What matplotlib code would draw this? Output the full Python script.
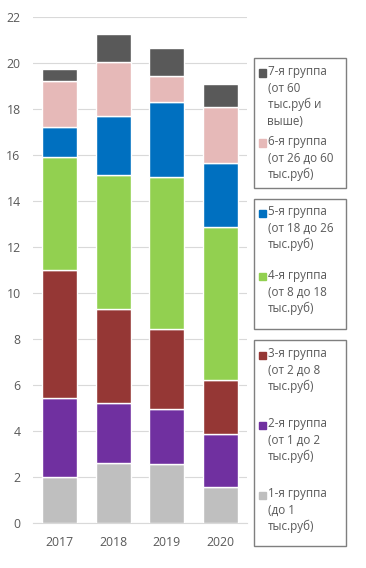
import matplotlib.pyplot as plt
from matplotlib.patches import Rectangle

plt.rcParams['font.family'] = ['Open Sans', 'DejaVu Sans']

years = ['2017', '2018', '2019', '2020']
g1 = [2.0, 2.6, 2.57, 1.58]
g2 = [3.42, 2.6, 2.37, 2.3]
g3 = [5.56, 4.09, 3.48, 2.32]
g4 = [4.92, 5.83, 6.61, 6.66]
g5 = [1.33, 2.59, 3.29, 2.81]
g6 = [1.97, 2.35, 1.13, 2.4]
g7 = [0.54, 1.2, 1.2, 1.02]
series = [g1, g2, g3, g4, g5, g6, g7]
labels = ['1-я группа\n(до 1\nтыс.руб)',
          '2-я группа\n(от 1 до 2\nтыс.руб)',
          '3-я группа\n(от 2 до 8\nтыс.руб)',
          '4-я группа\n(от 8 до 18\nтыс.руб)',
          '5-я группа\n(от 18 до 26\nтыс.руб)',
          '6-я группа\n(от 26 до 60\nтыс.руб)',
          '7-я группа\n(от 60\nтыс.руб и\nвыше)']
colors = ['#BFBFBF', '#7030A0', '#953735', '#92D050', '#0070C0', '#E6B9B8', '#595959']

W, H = 366, 568
fig = plt.figure(figsize=(W/100, H/100), dpi=100)
ax = fig.add_axes([33/W, 1-523/H, (247-33)/W, (523-17)/H])

x = range(len(years))
bottom = [0]*len(years)
for vals, c in zip(series, colors):
    ax.bar(x, vals, 0.66, bottom=bottom, color=c, edgecolor='white', linewidth=1, zorder=3)
    bottom = [b+v for b, v in zip(bottom, vals)]

ax.set_xlim(-0.5, 3.5)
ax.set_ylim(0, 22)
ax.set_yticks(range(0, 23, 2))
ax.set_xticks(list(x))
ax.set_xticklabels(years)
ax.grid(axis='y', color='#D9D9D9', linewidth=0.8, zorder=0)
for s in ['top', 'right', 'left']:
    ax.spines[s].set_visible(False)
ax.spines['bottom'].set_color('#D9D9D9')
ax.tick_params(length=0, labelsize=8.8, labelcolor='#595959')
ax.tick_params(axis='y', pad=9)
ax.tick_params(axis='x', pad=9)

# legend boxes (pixel coords from top), each with its entries
boxes = [((58, 188), [6, 5], [73, 143]),
         ((199, 329), [4, 3], [213, 277]),
         ((340, 546), [2, 1, 0], [355, 425, 495])]
for (top, bot), idxs, ys in boxes:
    fig.add_artist(Rectangle((254/W, 1-bot/H), (346-254)/W, (bot-top)/H,
                             transform=fig.transFigure, fill=False,
                             edgecolor='#7F7F7F', linewidth=1))
    for i, yy in zip(idxs, ys):
        fig.add_artist(Rectangle((259/W, 1-(yy+3.5)/H), 7/W, 7/H,
                                 transform=fig.transFigure, color=colors[i]))
        fig.text(267.5/W, 1-(yy-7.5)/H, labels[i], fontsize=8.4, color='#595959',
                 va='top', ha='left', linespacing=1.32)

fig.savefig('out.png', dpi=100)
